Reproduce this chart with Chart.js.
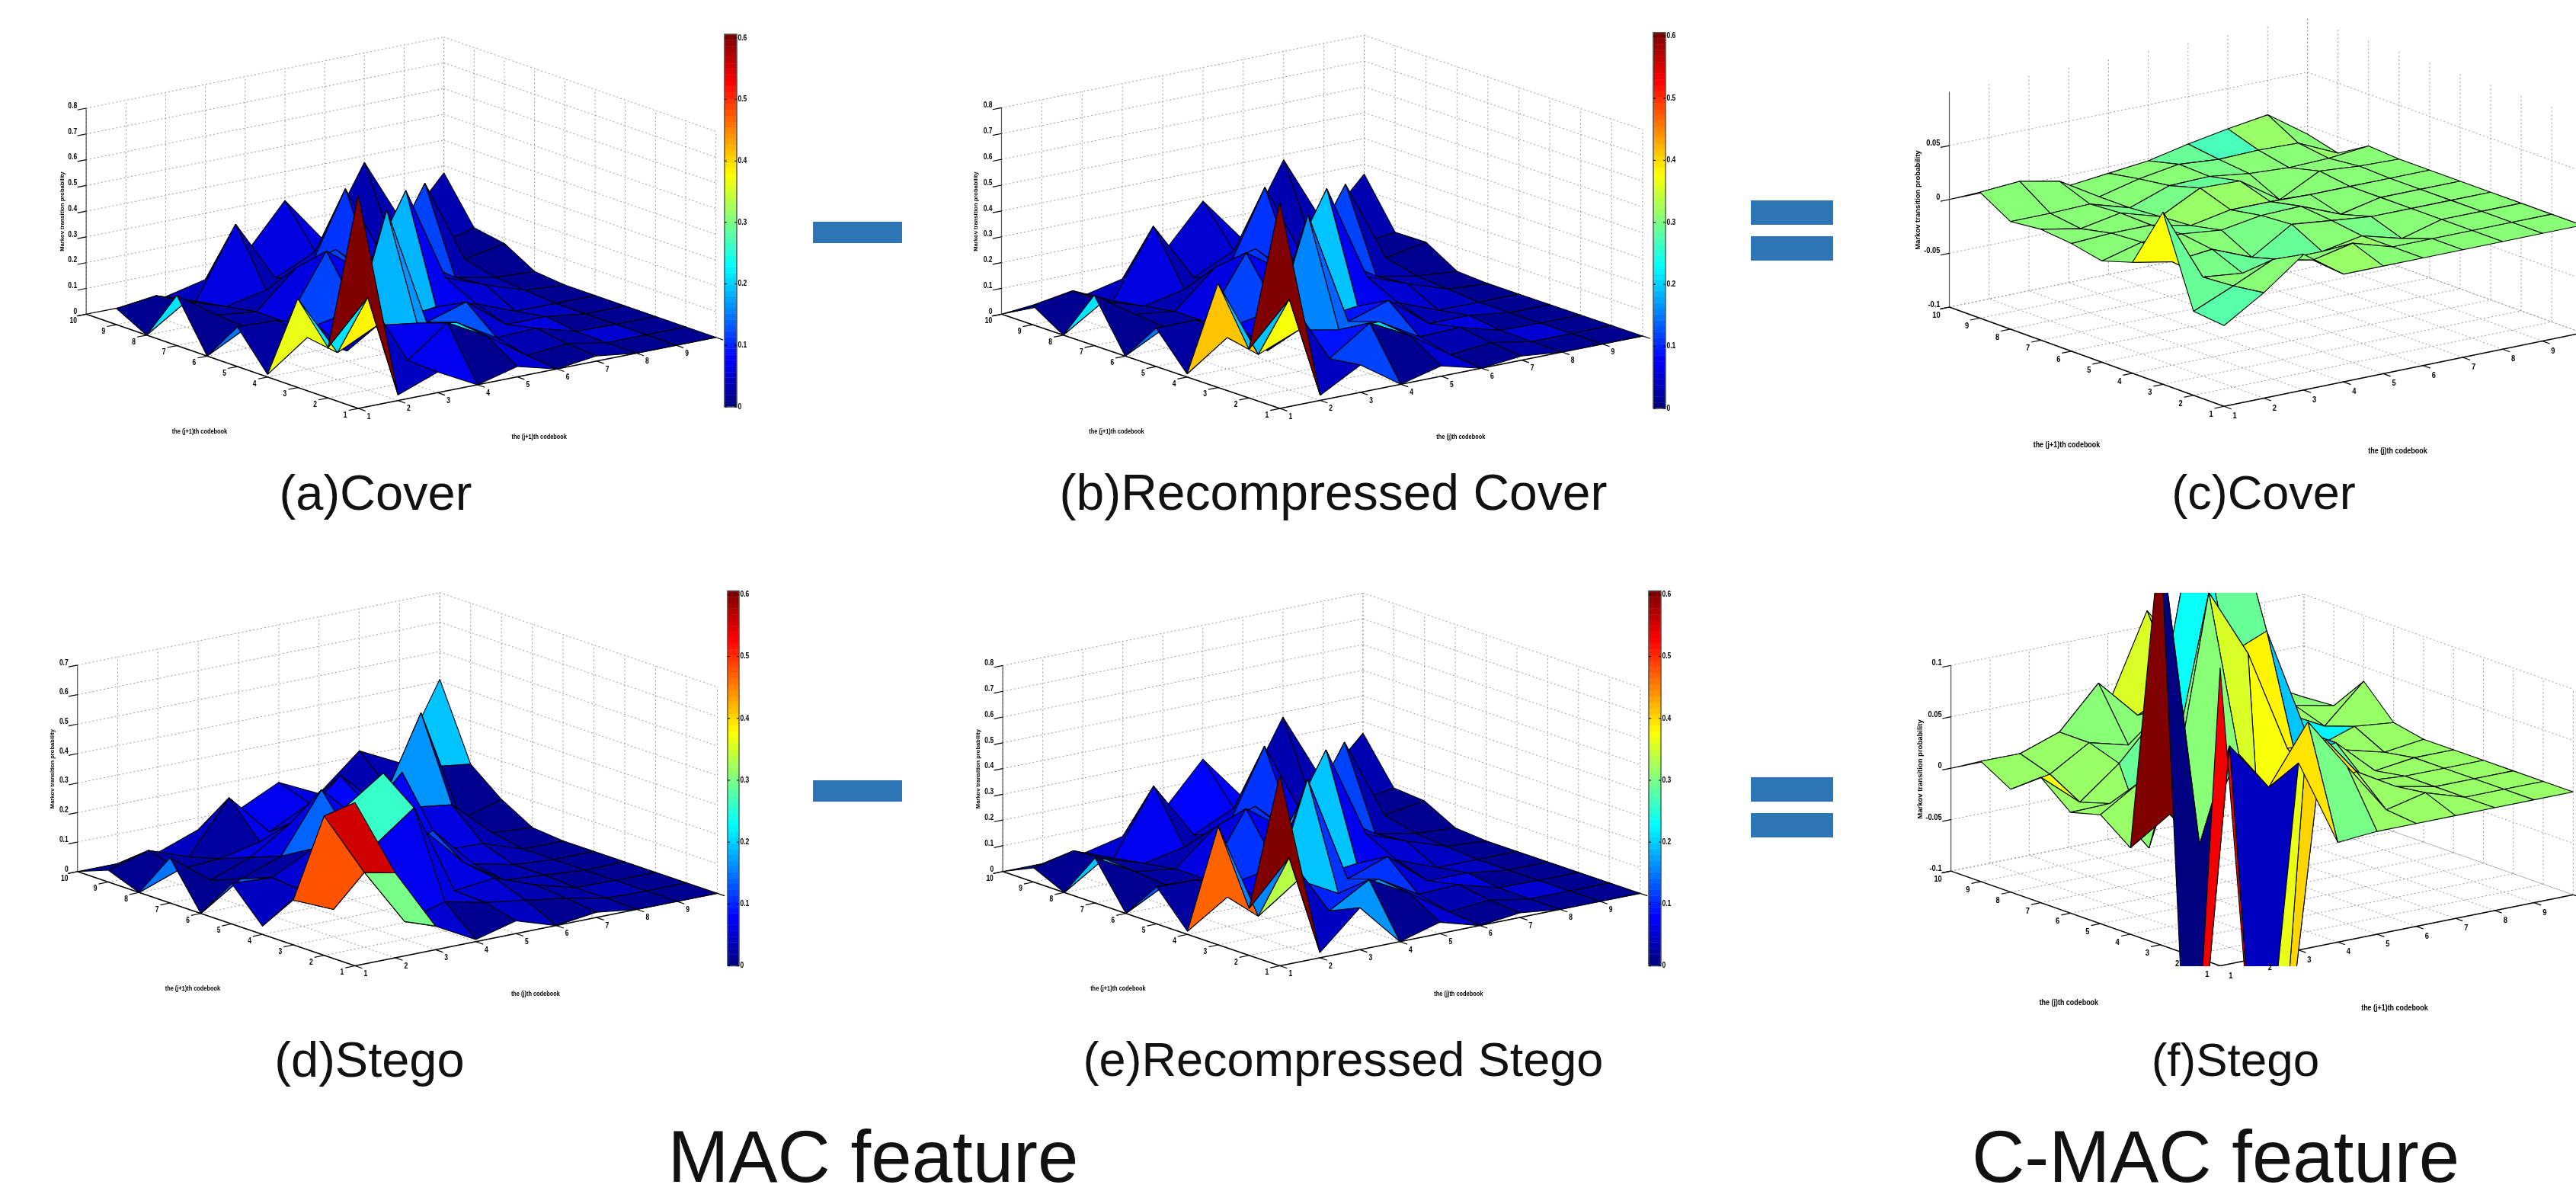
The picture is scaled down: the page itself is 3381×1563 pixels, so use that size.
<!DOCTYPE html>
<html><head><meta charset="utf-8">
<script src="https://cdn.jsdelivr.net/npm/chart.js@4"></script>
<style>
html,body{margin:0;padding:0;background:#fff;width:3381px;height:1563px;overflow:hidden;font-family:"Liberation Sans",Arial,sans-serif}
canvas{position:absolute;filter:blur(.55px)}
.cap{position:absolute;transform:translate(-50%,-50%);white-space:nowrap;color:#111}
.bar{position:absolute;background:#2e75b6}
</style></head><body>
<script>
const Z_a=[[.83,.196,.345,.01,.154,0,.195,0,.063,0],[.022,.36,.105,.123,.149,.08,.088,.1,.082,0],[.08,.084,.18,.04,.1,.07,.07,.05,.03,.007],[0,.2,.158,.556,.13,.316,.21,.083,.298,.043],[.04,.117,.13,.09,.06,.2,.25,.1,.058,.11],[0,.012,.04,.138,.078,.49,.11,.415,.13,.288],[.02,.027,.046,.02,.06,.12,.15,.1,.13,.1],[0,0,.003,.02,0,.062,.05,.375,.07,.375],[0,0,0,0,0,.01,.02,.05,.06,.1],[0,0,0,0,0,0,.012,.08,.1,.273]];
const C_a=[[.62,.21,.365,.02,.15,.015,.21,.015,.015],[.04,.38,.04,.05,.02,.02,.02,.02,.03],[.07,.07,.18,.08,.12,.06,.03,.06,.04],[.015,.21,.17,.17,.07,.12,.02,.03,.07],[.05,.07,.13,.07,.18,.07,.11,.05,.06],[.015,.03,.05,.04,.07,.03,.06,.04,.06],[.02,.02,.06,.03,.05,.07,.12,.07,.03],[.015,.05,.015,.04,.04,.03,.03,.07,.03],[.015,.015,.015,.015,.015,.015,.015,.015,.03]];
const Z_b=[[.80,.189,.403,.012,.149,0,.195,0,.075,0],[.02,.352,.097,.122,.15,.08,.09,.1,.10,0],[.106,.09,.16,.04,.1,.07,.07,.05,.03,.007],[0,.197,.13,.535,.13,.307,.21,.083,.288,.043],[.04,.117,.13,.09,.06,.2,.25,.1,.058,.11],[0,.012,.04,.141,.078,.493,.11,.417,.13,.282],[.016,.027,.046,.02,.06,.12,.15,.1,.13,.1],[0,0,.003,.02,0,.062,.05,.366,.07,.38],[0,0,0,0,0,.01,.02,.05,.06,.1],[0,0,0,0,0,0,.007,.079,.077,.262]];
const C_b=[[.62,.19,.41,.02,.15,.015,.21,.015,.015],[.04,.37,.05,.05,.02,.02,.02,.02,.03],[.12,.09,.16,.08,.12,.06,.03,.06,.04],[.015,.2,.14,.16,.07,.11,.02,.03,.07],[.05,.07,.12,.09,.19,.07,.11,.05,.05],[.015,.03,.05,.05,.07,.03,.06,.04,.05],[.02,.02,.06,.03,.05,.07,.12,.07,.03],[.015,.05,.015,.04,.04,.03,.03,.07,.03],[.015,.015,.015,.015,.015,.015,.015,.015,.03]];
const Z_c=[[-.025,-.022,.06,.003,-.006,0,.003,0,.017,0],[-.002,-.006,-.008,-.004,.004,.002,-.004,0,.0195,0],[.026,.011,-.012,0,.004,.002,.003,.001,.012,0],[0,.003,-.007,-.015,0,-.006,-.008,-.01,-.01,-.01],[0,.011,-.007,.008,.006,.001,.011,.003,-.001,-.006],[0,0,0,.004,.007,.001,.01,.004,.005,-.002],[0,0,-.01,0,-.008,0,-.015,-.001,.002,.006],[0,0,0,0,0,0,.004,-.003,.003,.0125],[0,0,0,0,0,0,.001,-.002,.002,.018],[0,0,0,0,0,0,0,.002,-.015,-.0076]];
const C_c=[[.46,.47,.61,.515,.515,.515,.515,.515,.515],[.515,.5,.485,.5,.515,.515,.515,.515,.515],[.515,.5,.47,.5,.485,.515,.485,.515,.515],[.53,.515,.47,.485,.515,.53,.485,.515,.515],[.515,.53,.5,.515,.485,.53,.47,.515,.5],[.515,.515,.485,.515,.515,.5,.515,.485,.48],[.515,.515,.515,.5,.515,.515,.5,.5,.44],[.515,.515,.515,.515,.515,.515,.515,.515,.53],[.515,.515,.515,.515,.515,.515,.515,.53,.515]];
const Z_d=[[.554,.473,.152,.028,.137,0,.153,0,.04,0],[.288,.254,.093,.12,.13,.09,.05,.05,.08,0],[.08,.06,.28,.37,.2,.14,.1,.06,.03,.01],[.007,.1,.383,.465,.2,.338,.19,.09,.204,.06],[.043,.07,.074,.245,.13,.2,.2,.14,.06,.1],[0,.05,.09,.107,.18,.342,.18,.26,.13,.166],[.018,.03,.04,.02,.04,.05,.16,.13,.12,.1],[0,.003,.003,.01,.01,.046,.142,.418,.12,.218],[0,0,0,0,0,0,.02,.03,.172,.15],[0,0,0,0,0,0,.01,.07,.154,.406]];
const C_d=[[.555,.48,.02,.04,.13,.015,.15,.015,.015],[.3,.07,.05,.05,.02,.02,.02,.02,.03],[.05,.07,.26,.07,.14,.06,.06,.02,.04],[.015,.06,.06,.12,.07,.07,.03,.07,.06],[.04,.05,.06,.12,.08,.07,.08,.07,.07],[.015,.03,.05,.06,.07,.07,.06,.05,.06],[.02,.02,.03,.03,.05,.06,.17,.07,.03],[.015,.03,.015,.02,.03,.03,.03,.05,.03],[.015,.015,.015,.015,.015,.015,.015,.01,.19]];
const Z_e=[[.741,.182,.46,.012,.144,0,.175,0,.055,0],[.02,.348,.08,.114,.14,.08,.09,.1,.09,0],[.163,.11,.19,.04,.1,.07,.07,.05,.03,.007],[0,.2,.106,.51,.13,.313,.2,.083,.279,.043],[.044,.117,.13,.09,.06,.2,.25,.1,.058,.11],[0,.012,.04,.146,.078,.479,.11,.412,.13,.28],[.018,.027,.046,.02,.06,.12,.15,.1,.13,.1],[0,0,.003,.02,0,.062,.05,.365,.07,.381],[0,0,0,0,0,.01,.02,.05,.06,.1],[0,0,0,0,0,0,.01,.074,.084,.256]];
const C_e=[[.62,.16,.47,.02,.13,.015,.19,.015,.015],[.04,.34,.05,.05,.02,.02,.02,.02,.03],[.17,.1,.19,.08,.11,.06,.03,.07,.05],[.015,.17,.11,.15,.07,.11,.02,.03,.07],[.05,.07,.11,.09,.19,.07,.11,.05,.08],[.015,.03,.05,.05,.07,.03,.06,.04,.08],[.02,.02,.06,.03,.05,.07,.12,.07,.03],[.015,.05,.015,.04,.04,.03,.03,.07,.03],[.015,.015,.015,.015,.015,.015,.015,.015,.03]];
const Z_f=[[.19,-.32,.3,-.016,.006,-.002,.022,0,.017,0],[-.29,.096,-.01,.009,.03,-.001,-.01,.007,.0168,0],[.082,.048,.07,.217,.066,-.052,.02,.03,.03,0],[-.003,.104,-.3,.15,.061,.06,.06,.02,.07,-.029],[0,.053,.02,.05,.068,.12,.26,.05,.031,.03],[0,.003,.03,.05,.02,.136,.233,.05,.05,.115],[0,.012,.008,.003,.03,.03,.02,.05,.04,.06],[0,0,0,0,-.005,.005,-.003,.02,.02,.03],[0,0,0,0,0,-.005,.01,0,.01,.02],[0,0,0,0,0,0,.006,.036,.002,0]];
const C_f=[[.88,0,1,.52,.52,.53,.62,.52,.52],[.07,.36,.5,.5,.51,.53,.53,.53,.52],[.65,.6,.58,.41,.47,.47,.5,.5,.5],[.49,.67,.62,.41,.41,.375,.47,.5,.48],[.52,.55,.65,.35,.63,.47,.35,.5,.58],[.52,.53,.65,.48,.32,.48,.48,.5,.58],[.52,.52,.53,.52,.5,.66,.5,.5,.5],[.52,.52,.52,.53,.53,.52,.37,.52,.52],[.52,.52,.52,.52,.52,.52,.52,.53,.5]];
const axisTicks=[1,2,3,4,5,6,7,8,9,10];
const zT8=[0,.1,.2,.3,.4,.5,.6,.7,.8], zT7=[0,.1,.2,.3,.4,.5,.6,.7];
const zTc=[-.1,-.05,0,.05], zTf=[-.1,-.05,0,.05,.1];
const cbTicks=[0,.1,.2,.3,.4,.5,.6];
const J1='the (j+1)th codebook', J0='the (j)th codebook', ZT='Markov transition probability';

const V1={ox:60,sx:1568/960,sy:1563/540}, V2={ox:1250,sx:1568/960,sy:1563/540}, V3={ox:2480,sx:1568/900,sy:1563/600};
const panels=[
 {Z:Z_a,C:C_a,cmax:.606,view:{...V1,oy:80},O:[670,1320],ea:[85.2,-30],eb:[-64.8,-39.8],zs:978,zmin:0,zmax:.8,zt:zT8,t1:J1,t2:J1,tp1:[330,1408],tp2:[1058,1428],tpz:[35,572],tf:7.6,lf:10,
  canvas:[30,0,1030,640],box:[30,0,1030,640],cb:{x0:951,x1:967,y0:534,s:807}},
 {Z:Z_b,C:C_b,cmax:.606,view:{...V2,oy:80},O:[702,1320],ea:[86.4,-30.6],eb:[-66.3,-39.8],zs:980,zmin:0,zmax:.8,zt:zT8,t1:J1,t2:J0,tp1:[352,1408],tp2:[1090,1428],tpz:[50,572],tf:7.6,lf:10,
  canvas:[1220,0,2230,640],box:[1220,0,2230,640],cb:{x0:2170,x1:2186,y0:536,s:814}},
 {Z:Z_c,C:C_c,cmax:1,view:{...V3,oy:20},O:[765,1337],ea:[91,-27.9],eb:[-69.8,-37.7],zs:3680,zmin:-.1,zmax:.1,zt:zTc,t1:J1,t2:J0,tp1:[405,1470],tp2:[1162,1490],tpz:[65,632],tf:9.5,lf:11,
  canvas:[2480,0,3381,640],box:[2480,0,3381,640]},
 {Z:Z_d,C:C_d,cmax:.606,view:{...V1,oy:770},O:[663,1440],ea:[86.3,-30.6],eb:[-66.1,-39.8],zs:1120,zmin:0,zmax:.7,zt:zT7,t1:J1,t2:J0,tp1:[315,1527],tp2:[1050,1547],tpz:[15,692],tf:7.6,lf:10,
  canvas:[30,740,1030,1340],box:[30,740,1030,1340],cb:{x0:955,x1:970,y0:1267.6,s:812}},
 {Z:Z_e,C:C_e,cmax:.606,view:{...V2,oy:770},O:[702,1440],ea:[85.8,-30.6],eb:[-66,-39.8],zs:978,zmin:0,zmax:.8,zt:zT8,t1:J1,t2:J0,tp1:[355,1527],tp2:[1085,1547],tpz:[55,692],tf:7.6,lf:10,
  canvas:[1220,740,2230,1340],box:[1220,740,2230,1340],cb:{x0:2164,x1:2180,y0:1267.6,s:812}},
 {Z:Z_f,C:C_f,cmax:1,view:{...V3,oy:760},O:[756,1322],ea:[89.7,-27],eb:[-68.4,-36],zs:3515,zmin:-.1,zmax:.1,zt:zTf,t1:J0,t2:J1,tp1:[410,1448],tp2:[1155,1467],tpz:[70,650],tf:9.5,lf:11,
  canvas:[2480,740,3381,1340],box:[2480,778,3381,1268]}
];
const captions=[['(a)Cover',493,646,65],['(b)Recompressed Cover',1750,646,66],['(c)Cover',2971,646,63],['(d)Stego',485,1390,65],['(e)Recompressed Stego',1763,1390,63],['(f)Stego',2934,1390,62],['MAC feature',1146,1518,96],['C-MAC feature',2908,1518,96]];
const bars=[[1067,291,117,28],[1067,1024,117,28],[2298,263,108,32],[2298,310,108,32],[2298,1020,108,32],[2298,1067,108,32]];

function jet(t){t=Math.max(0,Math.min(.9999,t));const q=Math.floor(t*64)/63;
 const f=v=>Math.round(255*Math.max(0,Math.min(1,1.5-Math.abs(4*q-v))));
 return `rgb(${f(3)},${f(2)},${f(1)})`;}

captions.forEach(([t,x,y,s])=>{const d=document.createElement('div');d.className='cap';d.textContent=t;d.style.cssText=`left:${x}px;top:${y}px;font-size:${s}px`;document.body.appendChild(d);});
bars.forEach(([x,y,w,h])=>{const d=document.createElement('div');d.className='bar';d.style.cssText=`left:${x}px;top:${y}px;width:${w}px;height:${h}px`;document.body.appendChild(d);});

function buildPanel(p){
 const v=p.view;
 const page=(zx,zy)=>({x:v.ox+zx/v.sx,y:v.oy+zy/v.sy});
 const P=(a,b,z)=>page(p.O[0]+p.ea[0]*a+p.eb[0]*b, p.O[1]+p.ea[1]*a+p.eb[1]*b-(z-p.zmin)*p.zs);
 const ds=[];
 const line=(pts,color,w,dash)=>ds.push({data:pts,showLine:true,fill:false,borderColor:color,borderWidth:w,borderDash:dash||[],pointRadius:0,tension:0});
 const GRID='#9a9a9a',D=[2,3];
 for(let i=0;i<10;i++){
  line([P(i,0,p.zmin),P(i,9,p.zmin)],GRID,1,D);
  line([P(0,i,p.zmin),P(9,i,p.zmin)],GRID,1,D);
  line([P(i,9,p.zmin),P(i,9,p.zmax)],GRID,1,D);
  line([P(9,i,p.zmin),P(9,i,p.zmax)],GRID,1,D);
 }
 p.zt.forEach(z=>{line([P(0,9,z),P(9,9,z)],GRID,1,D);line([P(9,9,z),P(9,0,z)],GRID,1,D);});
 line([P(0,0,p.zmin),P(9,0,p.zmin)],'#000',1.5);
 line([P(0,0,p.zmin),P(0,9,p.zmin)],'#000',1.5);
 line([P(0,9,p.zmin),P(0,9,p.zmax)],'#555',1.2);
 axisTicks.forEach((_,i)=>{
  line([P(i,0,p.zmin),P(i,-.24,p.zmin)],'#000',1.2);
  line([P(0,i,p.zmin),P(-.24,i,p.zmin)],'#000',1.2);
 });
 p.zt.forEach(z=>line([P(0,9,z),P(-.22,9,z)],'#000',1.2));
 for(let a=8;a>=0;a--)for(let b=8;b>=0;b--){
  const Z=p.Z;
  ds.push({data:[P(a,b,Z[a][b]),P(a+1,b,Z[a+1][b]),P(a+1,b+1,Z[a+1][b+1]),P(a,b+1,Z[a][b+1]),P(a,b,Z[a][b])],
   showLine:true,fill:'shape',backgroundColor:jet(p.C[a][b]/p.cmax),borderColor:'#000',borderWidth:1.1,borderJoinStyle:'bevel',pointRadius:0,tension:0});
 }
 if(p.cb){const c=p.cb;const yv=t=>c.y0-t*c.s;
  for(let k=0;k<64;k++){const t0=k/64*p.cmax,t1=(k+1)/64*p.cmax;
   ds.push({data:[{x:c.x0,y:yv(t0)},{x:c.x1,y:yv(t0)},{x:c.x1,y:yv(t1)},{x:c.x0,y:yv(t1)},{x:c.x0,y:yv(t0)}],showLine:true,fill:'shape',backgroundColor:jet((k+.5)/64),borderColor:jet((k+.5)/64),borderWidth:.5,pointRadius:0,tension:0});}
  line([{x:c.x0,y:yv(0)},{x:c.x1,y:yv(0)},{x:c.x1,y:yv(p.cmax)},{x:c.x0,y:yv(p.cmax)},{x:c.x0,y:yv(0)}],'#555',1.4);
  cbTicks.forEach(t=>{line([{x:c.x0,y:yv(t)},{x:c.x0+3,y:yv(t)}],'#000',1);line([{x:c.x1-3,y:yv(t)},{x:c.x1,y:yv(t)}],'#000',1);});
 }
 ds.reverse(); // Chart.js paints the last dataset first
 const labels={id:'labels',afterDraw(ch){
  const g=ch.ctx,xs=ch.scales.x,ys=ch.scales.y,L=(q)=>({x:xs.getPixelForValue(q.x),y:ys.getPixelForValue(q.y)});
  g.save();g.fillStyle='#000';g.textBaseline='middle';g.textAlign='center';
  const txt=(s,q,fs,w)=>{g.font=`bold ${fs}px "Liberation Sans"`;const r=g.measureText(s).width;g.fillText(s,q.x,q.y,r*w);};
  axisTicks.forEach((t,i)=>{
   let q=L(P(0,i,p.zmin));
   txt(String(t),{x:q.x-17,y:q.y+9+(p.lf>10?2:0)},p.lf,.85);
   if(i<9){q=L(P(i,0,p.zmin));txt(String(t),{x:q.x+14,y:q.y+11+(p.lf>10?2:0)},p.lf,.85);}
  });
  g.textAlign='right';
  p.zt.forEach(z=>{const q=L(P(0,9,z));txt(String(z),{x:q.x-12,y:q.y-3},p.lf,.85);});
  g.textAlign='left';
  if(p.cb)cbTicks.forEach(t=>{const q=L({x:p.cb.x1,y:p.cb.y0-t*p.cb.s});txt(String(t),{x:q.x+1.5,y:q.y},p.lf,.85);});
  g.textAlign='center';
  const a=L(page(...p.tp1)),b=L(page(...p.tp2)),c=L(page(...p.tpz));
  txt(p.t1,a,p.tf+1.4,.82);txt(p.t2,b,p.tf+1.4,.82);
  g.translate(c.x,c.y);g.rotate(-Math.PI/2);txt(ZT,{x:0,y:0},p.tf,1);
  g.restore();
 }};
 const cv=p.canvas,bx=p.box;
 const el=document.createElement('canvas');el.width=cv[2]-cv[0];el.height=cv[3]-cv[1];
 el.style.cssText=`left:${cv[0]}px;top:${cv[1]}px;width:${el.width}px;height:${el.height}px`;
 document.body.appendChild(el);
 new Chart(el,{type:'scatter',data:{datasets:ds},plugins:[labels],options:{responsive:false,animation:false,
  layout:{padding:{left:bx[0]-cv[0],top:bx[1]-cv[1],right:cv[2]-bx[2],bottom:cv[3]-bx[3]}},
  plugins:{legend:{display:false},tooltip:{enabled:false}},events:[],
  scales:{x:{type:'linear',display:false,min:bx[0],max:bx[2]},y:{type:'linear',display:false,min:bx[1],max:bx[3],reverse:true}}}});
}
panels.forEach(buildPanel);
</script>
</body></html>
